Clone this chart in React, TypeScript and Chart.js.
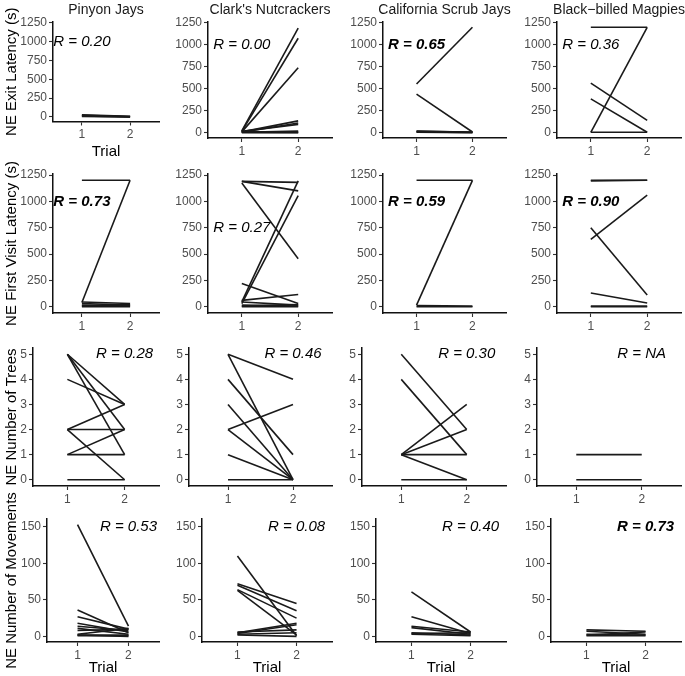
import React, { useEffect, useRef } from 'react';
import { Chart, registerables } from 'chart.js';

Chart.register(...registerables);

// ---------- categories / labels ----------
const species = ['Pinyon Jays', "Clark's Nutcrackers", 'California Scrub Jays', 'Black−billed Magpies'];
const measures = ['NE Exit Latency (s)', 'NE First Visit Latency (s)', 'NE Number of Trees', 'NE Number of Movements'];
const trials = [1, 2];
const trialLabels = ['1', '2'];
const xTitle = 'Trial';

// ---------- tick values ----------
const latencyTicks = [0, 250, 500, 750, 1000, 1250];
const treeTicks = [0, 1, 2, 3, 4, 5];
const movementTicks = [0, 50, 100, 150];

// ---------- NE Exit Latency (trial 1 -> trial 2, one pair per bird) ----------
const pinyonExitT1 = [30, 22, 15, 8];
const pinyonExitT2 = [8, 5, 2, 0];
const nutExitT1 = [20, 15, 10, 10, 5, 15, 5, 10, 5, 0];
const nutExitT2 = [1190, 1075, 740, 135, 110, 95, 20, 10, 3, 0];
const scrubExitT1 = [555, 440, 20, 15, 10, 5];
const scrubExitT2 = [1200, 8, 5, 8, 3, 0];
const magpieExitT1 = [1200, 5, 565, 385, 5];
const magpieExitT2 = [1200, 1200, 140, 5, 5];

// ---------- NE First Visit Latency ----------
const pinyonVisitT1 = [1200, 40, 45, 30, 15, 5, 0];
const pinyonVisitT2 = [1200, 1200, 30, 15, 5, 20, 0];
const nutVisitT1 = [1190, 1190, 1175, 45, 30, 220, 60, 45, 15, 5, 0];
const nutVisitT2 = [1180, 1100, 455, 1195, 1055, 30, 115, 15, 5, 20, 0];
const scrubVisitT1 = [1200, 15, 10, 0];
const scrubVisitT2 = [1200, 1200, 5, 0];
const magpieVisitT1 = [1200, 1195, 640, 750, 130, 5, 0];
const magpieVisitT2 = [1200, 1200, 1060, 110, 35, 5, 0];

// ---------- NE Number of Trees ----------
const pinyonTreesT1 = [5, 5, 5, 4, 2, 2, 2, 1, 1, 0];
const pinyonTreesT2 = [3, 2, 1, 3, 3, 2, 0, 2, 1, 0];
const nutTreesT1 = [5, 5, 4, 3, 2, 2, 1, 0];
const nutTreesT2 = [4, 0, 1, 0, 3, 0, 0, 0];
const scrubTreesT1 = [5, 4, 1, 1, 1, 1, 0];
const scrubTreesT2 = [2, 1, 3, 2, 1, 0, 0];
const magpieTreesT1 = [1, 0];
const magpieTreesT2 = [1, 0];

// ---------- NE Number of Movements ----------
const pinyonMoveT1 = [153, 36, 27, 18, 14, 11, 8, 3, 2, 1, 2];
const pinyonMoveT2 = [14, 5, 10, 6, 8, 3, 10, 11, 2, 1, 0];
const nutMoveT1 = [110, 72, 70, 64, 63, 5, 4, 6, 3, 2];
const nutMoveT2 = [1, 45, 35, 25, 2, 18, 16, 9, 5, 0];
const scrubMoveT1 = [61, 27, 14, 12, 5, 4, 3];
const scrubMoveT2 = [6, 4, 6, 3, 2, 5, 1];
const magpieMoveT1 = [9, 7, 2, 1, 3];
const magpieMoveT2 = [7, 3, 6, 1, 2];

// ---------- correlation labels ----------
const exitR = ['R = 0.20', 'R = 0.00', 'R = 0.65', 'R = 0.36'];
const exitRBold = [false, false, true, false];
const visitR = ['R = 0.73', 'R = 0.27', 'R = 0.59', 'R = 0.90'];
const visitRBold = [true, false, true, true];
const treesR = ['R = 0.28', 'R = 0.46', 'R = 0.30', 'R = NA'];
const treesRBold = [false, false, false, false];
const moveR = ['R = 0.53', 'R = 0.08', 'R = 0.40', 'R = 0.73'];
const moveRBold = [false, false, false, true];
// label anchor (data coordinates)
const exitRX = [1, 1, 1, 1];
const exitRY = [1000, 1000, 1000, 1000];
const visitRX = [1, 1, 1, 1];
const visitRY = [1000, 750, 1000, 1000];
const treesRX = [2, 2, 2, 2];
const treesRY = [5, 5, 5, 5];
const moveRX = [2, 2, 2, 2];
const moveRY = [150, 150, 150, 150];

// ---------- axis ranges ----------
const xRange = [0.4, 2.6];
const latencyRange = [-60, 1260];
const treeRange = [-0.25, 5.25];
const movementRange = [-7.65, 160.65];

// ---------- layout (pixels) ----------
const W = 685;
const H = 676;
const FAM = "'Liberation Sans', Arial, Helvetica, sans-serif";
const plotRight = [159, 332, 506, 681];
const plotLeft = [
  [53, 208, 383, 557],
  [53, 208, 383, 557],
  [33, 189, 362, 537],
  [47, 202, 376, 551],
];
const plotTop = [22, 174, 348, 519];
const plotBottom = [
  [121.5, 138, 138, 138],
  [313, 313, 313, 313],
  [486, 486, 486, 486],
  [642, 642, 642, 642],
];

const rows = [
  { t1: [pinyonExitT1, nutExitT1, scrubExitT1, magpieExitT1], t2: [pinyonExitT2, nutExitT2, scrubExitT2, magpieExitT2], ticks: latencyTicks, range: latencyRange, r: exitR, rb: exitRBold, rx: exitRX, ry: exitRY },
  { t1: [pinyonVisitT1, nutVisitT1, scrubVisitT1, magpieVisitT1], t2: [pinyonVisitT2, nutVisitT2, scrubVisitT2, magpieVisitT2], ticks: latencyTicks, range: latencyRange, r: visitR, rb: visitRBold, rx: visitRX, ry: visitRY },
  { t1: [pinyonTreesT1, nutTreesT1, scrubTreesT1, magpieTreesT1], t2: [pinyonTreesT2, nutTreesT2, scrubTreesT2, magpieTreesT2], ticks: treeTicks, range: treeRange, r: treesR, rb: treesRBold, rx: treesRX, ry: treesRY },
  { t1: [pinyonMoveT1, nutMoveT1, scrubMoveT1, magpieMoveT1], t2: [pinyonMoveT2, nutMoveT2, scrubMoveT2, magpieMoveT2], ticks: movementTicks, range: movementRange, r: moveR, rb: moveRBold, rx: moveRX, ry: moveRY },
];

type Panel = {
  row: number; col: number;
  t1: number[]; t2: number[];
  ticks: number[]; range: number[];
  rText: string; rBold: boolean; rx: number; ry: number;
  left: number; right: number; top: number; bottom: number;
};

const panels: Panel[] = [];
rows.forEach((r, ri) => {
  species.forEach((_, ci) => {
    panels.push({
      row: ri, col: ci,
      t1: r.t1[ci], t2: r.t2[ci],
      ticks: r.ticks, range: r.range,
      rText: r.r[ci], rBold: r.rb[ci], rx: r.rx[ci], ry: r.ry[ci],
      left: plotLeft[ri][ci], right: plotRight[ci], top: plotTop[ri], bottom: plotBottom[ri][ci],
    });
  });
});

const YW = 40;
const XH = 30;

function textPlugin(p: Panel) {
  return {
    id: 'panelText' + p.row + p.col,
    afterDraw(chart: any) {
      const { ctx, chartArea: a, scales } = chart;
      ctx.save();
      ctx.fillStyle = '#000';
      // correlation label
      ctx.font = `italic ${p.rBold ? 'bold ' : ''}15px ${FAM}`;
      ctx.textAlign = 'center';
      ctx.textBaseline = 'middle';
      ctx.fillText(p.rText, scales.x.getPixelForValue(p.rx), scales.y.getPixelForValue(p.ry));
      const cx = (a.left + a.right) / 2;
      // column (species) title
      if (p.row === 0) {
        ctx.font = `14px ${FAM}`;
        ctx.fillStyle = '#1a1a1a';
        ctx.textBaseline = 'alphabetic';
        ctx.fillText(species[p.col], cx, 14);
      }
      // x axis title
      if (p.row === 3 || (p.row === 0 && p.col === 0)) {
        ctx.font = `15px ${FAM}`;
        ctx.fillStyle = '#000';
        ctx.textBaseline = 'alphabetic';
        ctx.fillText(xTitle, cx, p.row === 0 ? a.bottom + 34.5 : a.bottom + 29.5);
      }
      // y axis title
      if (p.col === 0) {
        ctx.font = `15px ${FAM}`;
        ctx.fillStyle = '#000';
        ctx.textBaseline = 'middle';
        ctx.translate(12, (a.top + a.bottom) / 2);
        ctx.rotate(-Math.PI / 2);
        ctx.fillText(measures[p.row], 0, 0);
      }
      ctx.restore();
    },
  };
}

function makeConfig(p: Panel): any {
  const tickFont = { family: FAM, size: 12 };
  const grid = { display: true, drawOnChartArea: false, drawTicks: true, tickLength: 4, tickColor: '#333333', tickWidth: 1.1 };
  const border = { display: true, color: '#111', width: 1.5 };
  return {
    type: 'line',
    data: {
      datasets: p.t1.map((v, i) => ({
        data: [{ x: trials[0], y: v }, { x: trials[1], y: p.t2[i] }],
        borderColor: '#1a1a1a',
        borderWidth: 1.6,
        pointRadius: 0,
        fill: false,
        tension: 0,
      })),
    },
    options: {
      responsive: false,
      animation: false,
      events: [],
      layout: {
        padding: { left: p.left - YW, right: W - p.right, top: p.top, bottom: H - p.bottom - XH },
      },
      plugins: { legend: { display: false }, tooltip: { enabled: false }, title: { display: false } },
      scales: {
        x: {
          type: 'linear',
          min: xRange[0],
          max: xRange[1],
          afterFit: (s: any) => { s.height = XH; },
          afterBuildTicks: (s: any) => { s.ticks = trials.map((v) => ({ value: v })); },
          ticks: {
            autoSkip: false, maxRotation: 0, padding: 2, color: '#4D4D4D', font: tickFont,
            callback: (v: number) => { const k = trials.indexOf(v); return k >= 0 ? trialLabels[k] : ''; },
          },
          grid, border,
        },
        y: {
          type: 'linear',
          min: p.range[0],
          max: p.range[1],
          afterFit: (s: any) => { s.width = YW; },
          afterBuildTicks: (s: any) => { s.ticks = p.ticks.map((v) => ({ value: v })); },
          ticks: { autoSkip: false, padding: 2, color: '#4D4D4D', font: tickFont, callback: (v: number) => String(v) },
          grid, border,
        },
      },
    },
    plugins: [textPlugin(p)],
  };
}

export default function App() {
  const refs = useRef<(HTMLCanvasElement | null)[]>([]);
  useEffect(() => {
    const charts = panels.map((p, i) => new Chart(refs.current[i] as HTMLCanvasElement, makeConfig(p)));
    return () => charts.forEach((c) => c.destroy());
  }, []);
  return (
    <div style={{ position: 'fixed', left: 0, top: 0, width: W, height: H, background: '#fff' }}>
      {panels.map((p, i) => (
        <canvas
          key={i}
          ref={(el) => { refs.current[i] = el; }}
          width={W}
          height={H}
          style={{ position: 'absolute', left: 0, top: 0 }}
        />
      ))}
    </div>
  );
}
